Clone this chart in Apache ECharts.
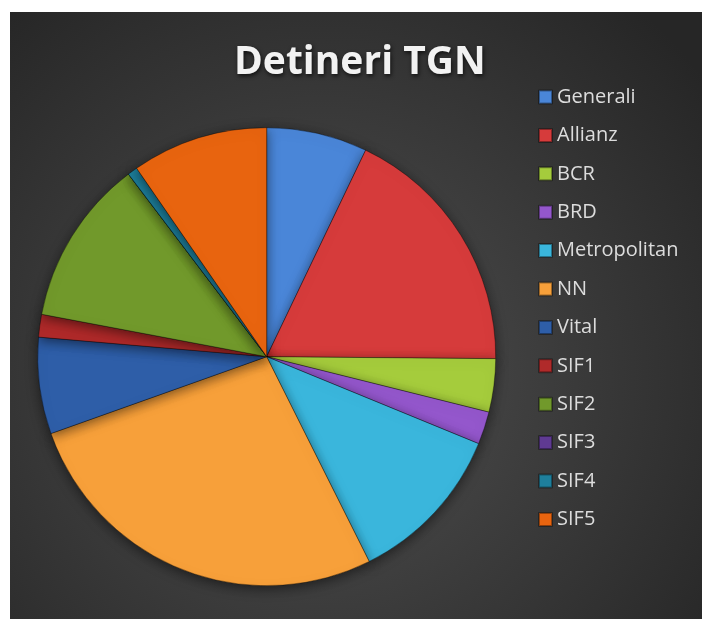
<!DOCTYPE html>
<html>
<head>
<meta charset="utf-8">
<script src="https://cdn.jsdelivr.net/npm/echarts@6/dist/echarts.min.js"></script>
<style>
	html, body { margin: 0; padding: 0; background: #ffffff; overflow: hidden; }
	#fundal { position: absolute; left: 10px; top: 12px; right: 0; bottom: 0; background: #2a2a2a; }
	#detineri { position: absolute; left: 10px; top: 12px; width: 692px; height: 607px; }
</style>
</head>
<body>
<div id="fundal"></div>
<div id="detineri"></div>
<script>
var titlu = 'Detineri TGN';
var firme = ['Generali', 'Allianz', 'BCR', 'BRD', 'Metropolitan', 'NN', 'Vital', 'SIF1', 'SIF2', 'SIF3', 'SIF4', 'SIF5'];
var detineri = [7.1, 18.0, 3.75, 2.3, 11.4, 26.9, 6.8, 1.6, 11.7, 0, 0.7, 9.6];
var culori = ['#4a86d8', '#d63b3b', '#a5cc3c', '#9457cc', '#3ab6dc', '#f7a03a', '#2e5ea8', '#b02a2a', '#71992b', '#5f3a92', '#1e7f9c', '#e8640f'];

function loadDetineri() {
	var mydom = document.getElementById('detineri');
	var chart = echarts.init(mydom, null, { renderer: 'canvas' });

	var date = [];
	for (var i = 0; i < firme.length; i++) {
		date.push({ name: firme[i], value: detineri[i] });
	}

	var option = {
		backgroundColor: {
			type: 'radial', x: 0.45, y: 0.6, r: 0.8,
			colorStops: [
				{ offset: 0, color: '#505050' },
				{ offset: 1, color: '#262626' }
			]
		},
		color: culori,
		title: {
			text: titlu,
			left: 219,
			top: 26,
			textStyle: {
				fontFamily: 'Open Sans',
				fontWeight: 'bold',
				fontSize: 39,
				color: '#f2f2f2',
				textShadowColor: 'rgba(0, 0, 0, 0.7)',
				textShadowBlur: 4,
				textShadowOffsetX: 1,
				textShadowOffsetY: 2
			}
		},
		legend: {
			orient: 'vertical',
			left: 523,
			top: 70,
			itemWidth: 13,
			itemHeight: 13,
			itemGap: 18.4,
			icon: 'rect',
			data: firme,
			textStyle: {
				fontFamily: 'Open Sans',
				fontSize: 20,
				lineHeight: 20,
				color: '#dcdcdc'
			}
		},
		series: [{
			name: titlu,
			type: 'pie',
			center: [256.7, 344.7],
			radius: 229,
			startAngle: 90,
			clockwise: true,
			data: date,
			label: { show: false },
			labelLine: { show: false },
			emphasis: { disabled: true },
			itemStyle: {
				borderColor: 'rgba(0, 0, 0, 0.35)',
				borderWidth: 1,
				shadowBlur: 12,
				shadowColor: 'rgba(0, 0, 0, 0.5)',
				shadowOffsetY: 3
			}
		}]
	};
	chart.setOption(option);
}

loadDetineri();
</script>
</body>
</html>
